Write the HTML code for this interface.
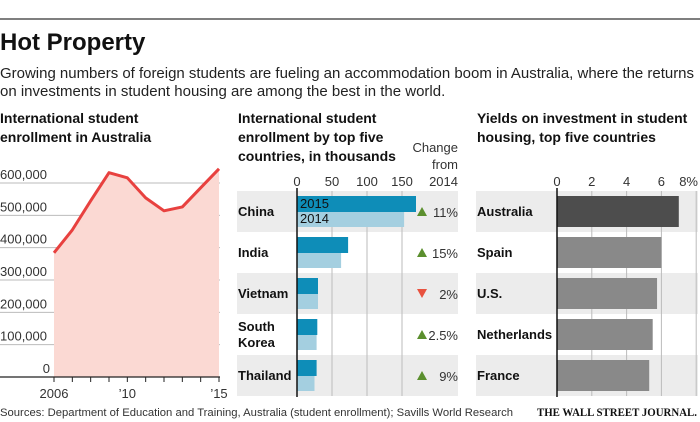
<!DOCTYPE html>
<html><head><meta charset="utf-8">
<style>
body{margin:0;background:#fff;}
svg{display:block;font-family:"Liberation Sans",sans-serif;}
.t{font-weight:bold;font-size:14px;fill:#111;}
.tick{font-size:13px;fill:#333;}
.lab{font-weight:bold;font-size:13px;fill:#111;}
</style></head><body>
<svg id="c" width="700" height="422" viewBox="0 0 700 422">
<line x1="0" y1="19" x2="700" y2="19" stroke="#333" stroke-width="1.2"/>
<text x="0" y="50" font-size="24" font-weight="bold" fill="#111">Hot Property</text>
<text x="0" y="78" font-size="15" fill="#222" textLength="694">Growing numbers of foreign students are fueling an accommodation boom in Australia, where the returns</text>
<text x="0" y="96" font-size="15" fill="#222">on investments in student housing are among the best in the world.</text>
<text class="t" x="0" y="123">International student</text>
<text class="t" x="0" y="142">enrollment in Australia</text>
<text class="t" x="238" y="123">International student</text>
<text class="t" x="238" y="142">enrollment by top five</text>
<text class="t" x="238" y="161">countries, in thousands</text>
<text class="tick" x="458" y="152" text-anchor="end">Change</text>
<text class="tick" x="458" y="169" text-anchor="end">from</text>
<text class="tick" x="458" y="186" text-anchor="end">2014</text>
<text class="t" x="477" y="123">Yields on investment in student</text>
<text class="t" x="477" y="142">housing, top five countries</text>
<g id="left"></g><g id="mid"></g><g id="right"></g>
<text x="0" y="416" font-size="11" fill="#333" textLength="513" lengthAdjust="spacingAndGlyphs">Sources: Department of Education and Training, Australia (student enrollment); Savills World Research</text>
<text x="537" y="416" font-size="12" fill="#111" textLength="160" lengthAdjust="spacingAndGlyphs" font-family="Liberation Serif,serif" font-weight="bold">THE WALL STREET JOURNAL.</text>
</svg>
<script>
const years=[2006,2007,2008,2009,2010,2011,2012,2013,2014,2015];
const enrollment=[384000,455000,545000,632000,616000,554000,514000,526000,585000,644000];
const enrollTicks=[0,100000,200000,300000,400000,500000,600000];
const countries=["China","India","Vietnam","South Korea","Thailand"];
const students2015=[170,73,30,29,28];
const students2014=[153,63,30,28,25];
const changeLabels=["11%","15%","2%","2.5%","9%"];
const changeUp=[true,true,false,true,true];
const midTicks=[0,50,100,150];
const yieldCountries=["Australia","Spain","U.S.","Netherlands","France"];
const yields=[7.0,6.0,5.75,5.5,5.3];
const yieldTicks=[0,2,4,6,8];
const NS="http://www.w3.org/2000/svg";
function mk(p,t,a){const e=document.createElementNS(NS,t);for(const k in a)e.setAttribute(k,a[k]);p.appendChild(e);return e;}
// left
const L=document.getElementById('left');
const lx=y=>54+(y-2006)*(219-54)/9, ly=v=>377-v*(377-183)/600000;
enrollTicks.forEach((t,i)=>{
 if(t>0){const g=mk(L,'line',{x1:0,x2:220,y1:ly(t),y2:ly(t),stroke:'#bbb','stroke-width':1});
 
 }
 const tx=mk(L,'text',{x:t===0?50:0,y:ly(t)-4,class:'tick','text-anchor':t===0?'end':'start'});tx.textContent=t.toLocaleString('en-US');
 
 
});
let d='',ad='M'+lx(years[0])+','+ly(0);
years.forEach((y,i)=>{d+=(i?'L':'M')+lx(y)+','+ly(enrollment[i]);ad+='L'+lx(y)+','+ly(enrollment[i]);});
ad+='L'+lx(years[years.length-1])+','+ly(0)+'Z';
const ar=mk(L,'path',{d:ad,fill:'#fbd9d3'});


const ln=mk(L,'path',{d:d,fill:'none',stroke:'#e8413f','stroke-width':3,'stroke-linejoin':'round'});


const ax=mk(L,'line',{x1:0,x2:220,y1:377,y2:377,stroke:'#222','stroke-width':1.3});


years.forEach(y=>{const tk=mk(L,'line',{x1:lx(y),x2:lx(y),y1:377,y2:382,stroke:'#222'});
 
 });
[[2006,'2006'],[2010,'\u201910'],[2015,'\u201915']].forEach(([y,s])=>{const t=mk(L,'text',{x:lx(y),y:398,class:'tick','text-anchor':'middle'});t.textContent=s;
 
 });
// middle
const M=document.getElementById('mid');
const mx=v=>297+v*35/50, rowY=i=>191+i*41;
countries.forEach((c,i)=>{if(i%2===0){const b=mk(M,'rect',{x:237,y:rowY(i),width:221,height:41,fill:'#ececec'});
 
 }});
midTicks.forEach(t=>{if(t>0){const g=mk(M,'line',{x1:mx(t),x2:mx(t),y1:191,y2:396,stroke:'#bbb'});
 
 }
 const tx=mk(M,'text',{x:mx(t),y:186,class:'tick','text-anchor':'middle'});tx.textContent=t;
 
 });
countries.forEach((c,i)=>{
 const y=rowY(i);
 const b1=mk(M,'rect',{x:297,y:y+5,width:mx(students2015[i])-297,height:16,fill:'#0e8db8'});
 
 
 const b2=mk(M,'rect',{x:297,y:y+21,width:mx(students2014[i])-297,height:15,fill:'#a4cfe0'});
 
 
 const parts=c.split(' ');
 parts.forEach((p,j)=>{const t=mk(M,'text',{x:238,y:y+25+(parts.length>1?(j-0.5)*16:0),class:'lab'});t.textContent=p;
  
  });
 const ty=y+21;
 const tri=mk(M,'path',{d:changeUp[i]?`M417,${ty+4}L427,${ty+4}L422,${ty-5}Z`:`M417,${ty-5}L427,${ty-5}L422,${ty+4}Z`,fill:changeUp[i]?'#5b8f2e':'#e8523f'});
 
 
 const ct=mk(M,'text',{x:458,y:ty+5,class:'tick','text-anchor':'end'});ct.textContent=changeLabels[i];
 
 
});
const l15=mk(M,'text',{x:300,y:208,'font-size':13,fill:'#111'});l15.textContent='2015';


const l14=mk(M,'text',{x:300,y:223,'font-size':13,fill:'#111'});l14.textContent='2014';


const mAx=mk(M,'line',{x1:297,x2:297,y1:188,y2:397,stroke:'#111','stroke-width':1.5});


// right
const R=document.getElementById('right');
const rx=v=>557+v*17.4;
yieldCountries.forEach((c,i)=>{if(i%2===0){const b=mk(R,'rect',{x:476,y:rowY(i),width:222,height:41,fill:'#ececec'});
 
 }});
yieldTicks.forEach(t=>{if(t>0){const g=mk(R,'line',{x1:rx(t),x2:rx(t),y1:191,y2:396,stroke:'#bbb'});
 
 }
 const tx=mk(R,'text',{x:t===8?698:rx(t),y:186,class:'tick','text-anchor':t===8?'end':'middle'});tx.textContent=t===8?'8%':t;
 
 });
yieldCountries.forEach((c,i)=>{
 const y=rowY(i);
 const b=mk(R,'rect',{x:557,y:y+5,width:rx(yields[i])-557,height:31,fill:i===0?'#4d4d4d':'#898989'});
 
 
 const t=mk(R,'text',{x:477,y:y+25,class:'lab'});t.textContent=c;
 
 
});
const rAx=mk(R,'line',{x1:557,x2:557,y1:188,y2:397,stroke:'#111','stroke-width':1.5});


</script>
</body></html>
